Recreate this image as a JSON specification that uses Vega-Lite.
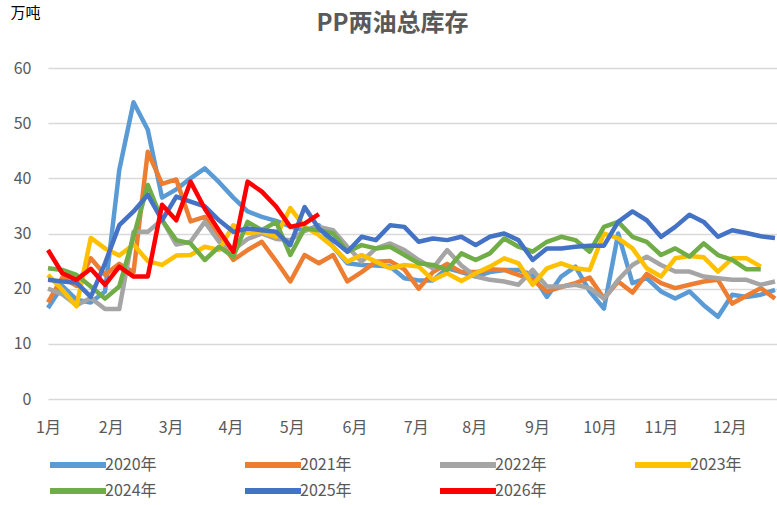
{
  "$schema": "https://vega.github.io/schema/vega-lite/v6.json",
  "width": 729,
  "height": 331,
  "autosize": {"type": "none"},
  "padding": {"left": 48, "top": 68, "right": 0, "bottom": 106},
  "background": "white",
  "title": {"text": "PP两油总库存", "fontSize": 24, "font": "Noto Sans CJK SC", "fontWeight": "bold", "color": "#595959", "anchor": "middle", "dx": -20, "offset": -31},
  "data": {"values": [
    {"w":0,"2020年":16.5,"2021年":17.5,"2022年":20,"2023年":22.5,"2024年":23.7,"2025年":21.6,"2026年":27},
    {"w":1,"2020年":20.5,"2021年":22,"2022年":19,"2023年":19.8,"2024年":23.4,"2025年":21.3,"2026年":22.8},
    {"w":2,"2020年":18,"2021年":20.5,"2022年":17,"2023年":16.8,"2024年":22.5,"2025年":21.1,"2026年":21.6},
    {"w":3,"2020年":17.5,"2021年":25.5,"2022年":18.3,"2023年":29.2,"2024年":20.4,"2025年":18.5,"2026年":23.6},
    {"w":4,"2020年":19.5,"2021年":22.5,"2022年":16.3,"2023年":27.3,"2024年":18.2,"2025年":24.6,"2026年":20.7},
    {"w":5,"2020年":41.5,"2021年":24.5,"2022年":16.3,"2023年":26,"2024年":20.4,"2025年":31.5,"2026年":24},
    {"w":6,"2020年":53.8,"2021年":23,"2022年":30.3,"2023年":28,"2024年":29.4,"2025年":34,"2026年":22.2},
    {"w":7,"2020年":48.8,"2021年":44.8,"2022年":30.3,"2023年":25,"2024年":38.8,"2025年":37,"2026年":22.2},
    {"w":8,"2020年":36.5,"2021年":39,"2022年":32.5,"2023年":24.3,"2024年":32.4,"2025年":32.4,"2026年":35.2},
    {"w":9,"2020年":38,"2021年":39.8,"2022年":28,"2023年":26,"2024年":28.8,"2025年":36.7,"2026年":32.4},
    {"w":10,"2020年":40,"2021年":32.2,"2022年":28.5,"2023年":26.1,"2024年":28.2,"2025年":35.8,"2026年":39.4},
    {"w":11,"2020年":41.8,"2021年":33,"2022年":32.1,"2023年":27.6,"2024年":25.2,"2025年":34.9,"2026年":34.5},
    {"w":12,"2020年":39.3,"2021年":29,"2022年":28.5,"2023年":27,"2024年":27.6,"2025年":32.4,"2026年":30.5},
    {"w":13,"2020年":36.5,"2021年":25.2,"2022年":27,"2023年":31.5,"2024年":25.8,"2025年":30.3,"2026年":26.7},
    {"w":14,"2020年":34,"2021年":27,"2022年":29,"2023年":30.1,"2024年":32.1,"2025年":30.9,"2026年":39.4},
    {"w":15,"2020年":33,"2021年":28.5,"2022年":30,"2023年":30.3,"2024年":30.6,"2025年":30.6,"2026年":37.6},
    {"w":16,"2020年":32.3,"2021年":25,"2022年":29,"2023年":29.4,"2024年":32.1,"2025年":30.3,"2026年":34.9},
    {"w":17,"2020年":31.3,"2021年":21.3,"2022年":28.8,"2023年":34.6,"2024年":26.1,"2025年":27.9,"2026年":31.2},
    {"w":18,"2020年":30.5,"2021年":26.1,"2022年":30.5,"2023年":31.2,"2024年":30.9,"2025年":34.8,"2026年":31.8},
    {"w":19,"2020年":31.5,"2021年":24.6,"2022年":31.2,"2023年":29.7,"2024年":30.6,"2025年":30.9,"2026年":33.5},
    {"w":20,"2020年":27.6,"2021年":26.1,"2022年":30.6,"2023年":27.6,"2024年":30,"2025年":28.8},
    {"w":21,"2020年":24.6,"2021年":21.3,"2022年":27.6,"2023年":24.9,"2024年":26.7,"2025年":26.7},
    {"w":22,"2020年":24.3,"2021年":23,"2022年":24.9,"2023年":26.1,"2024年":27.9,"2025年":29.4},
    {"w":23,"2020年":24.2,"2021年":24.9,"2022年":27.3,"2023年":24.9,"2024年":27.3,"2025年":28.8},
    {"w":24,"2020年":24,"2021年":25,"2022年":28.2,"2023年":23.7,"2024年":27.6,"2025年":31.5},
    {"w":25,"2020年":21.9,"2021年":23.5,"2022年":27,"2023年":24.3,"2024年":26.1,"2025年":31.2},
    {"w":26,"2020年":21.5,"2021年":20,"2022年":25.2,"2023年":24,"2024年":24.6,"2025年":28.5},
    {"w":27,"2020年":21.5,"2021年":23,"2022年":23.7,"2023年":21.6,"2024年":24.3,"2025年":29.1},
    {"w":28,"2020年":23.7,"2021年":24.5,"2022年":27,"2023年":22.8,"2024年":23.4,"2025年":28.8},
    {"w":29,"2020年":23,"2021年":23,"2022年":24.2,"2023年":21.4,"2024年":26.4,"2025年":29.4},
    {"w":30,"2020年":22.2,"2021年":23,"2022年":22.2,"2023年":22.8,"2024年":25.2,"2025年":27.9},
    {"w":31,"2020年":23,"2021年":23.5,"2022年":21.6,"2023年":24,"2024年":26.4,"2025年":29.4},
    {"w":32,"2020年":23.4,"2021年":23.4,"2022年":21.3,"2023年":25.5,"2024年":29.1,"2025年":30},
    {"w":33,"2020年":23.4,"2021年":22.5,"2022年":20.7,"2023年":24.6,"2024年":27.6,"2025年":28.8},
    {"w":34,"2020年":22.5,"2021年":21.6,"2022年":23.4,"2023年":20.7,"2024年":26.7,"2025年":25.2},
    {"w":35,"2020年":18.5,"2021年":19.5,"2022年":20.4,"2023年":23.7,"2024年":28.5,"2025年":27.3},
    {"w":36,"2020年":22.2,"2021年":20.3,"2022年":20.4,"2023年":24.6,"2024年":29.4,"2025年":27.3},
    {"w":37,"2020年":24,"2021年":21,"2022年":20.7,"2023年":23.7,"2024年":28.8,"2025年":27.6},
    {"w":38,"2020年":19.5,"2021年":22,"2022年":20.1,"2023年":23.4,"2024年":26.7,"2025年":27.8},
    {"w":39,"2020年":16.4,"2021年":18.2,"2022年":18.2,"2023年":30,"2024年":31.2,"2025年":27.8},
    {"w":40,"2020年":30,"2021年":21.3,"2022年":21.6,"2023年":29.1,"2024年":32.1,"2025年":32.1},
    {"w":41,"2020年":21,"2021年":19.3,"2022年":24.3,"2023年":27.3,"2024年":29.4,"2025年":34},
    {"w":42,"2020年":21.9,"2021年":22.7,"2022年":25.8,"2023年":23.7,"2024年":28.5,"2025年":32.4},
    {"w":43,"2020年":19.5,"2021年":21,"2022年":24.3,"2023年":22.2,"2024年":26.1,"2025年":29.4},
    {"w":44,"2020年":18.2,"2021年":20.1,"2022年":23.1,"2023年":25.5,"2024年":27.3,"2025年":31.2},
    {"w":45,"2020年":19.5,"2021年":20.7,"2022年":23.1,"2023年":25.9,"2024年":25.8,"2025年":33.4},
    {"w":46,"2020年":17,"2021年":21.3,"2022年":22.2,"2023年":25.7,"2024年":28.2,"2025年":32.1},
    {"w":47,"2020年":14.9,"2021年":21.6,"2022年":21.9,"2023年":23.1,"2024年":26.1,"2025年":29.4},
    {"w":48,"2020年":18.9,"2021年":17.3,"2022年":21.6,"2023年":25.5,"2024年":25.2,"2025年":30.6},
    {"w":49,"2020年":18.5,"2021年":18.7,"2022年":21.6,"2023年":25.5,"2024年":23.5,"2025年":30.1},
    {"w":50,"2020年":18.9,"2021年":20.1,"2022年":20.7,"2023年":24,"2024年":23.5,"2025年":29.5},
    {"w":51,"2020年":19.8,"2021年":18.2,"2022年":21.3,"2025年":29.2}
  ]},
  "transform": [
    {"fold": ["2020年","2021年","2022年","2023年","2024年","2025年","2026年"], "as": ["s","v"]},
    {"filter": "isValid(datum.v)"}
  ],
  "mark": {"type": "line", "strokeWidth": 4.5, "strokeJoin": "round", "strokeCap": "butt"},
  "encoding": {
    "x": {"field": "w", "type": "quantitative",
      "scale": {"domain": [0, 51.14], "nice": false, "zero": false},
      "axis": {"values": [0,4.4,8.6,12.8,17.1,21.5,25.8,29.9,34.3,38.7,43,47.8],
        "labelExpr": "['1月','2月','3月','4月','5月','6月','7月','8月','9月','10月','11月','12月'][indexof([0,4.4,8.6,12.8,17.1,21.5,25.8,29.9,34.3,38.7,43,47.8], datum.value)]",
        "grid": false, "domain": false, "ticks": false, "labelFlush": false, "labelOverlap": false,
        "labelPadding": 20, "labelFontSize": 16, "labelFont": "Liberation Sans Narrow, Noto Sans CJK SC", "labelColor": "#595959", "title": null}},
    "y": {"field": "v", "type": "quantitative",
      "scale": {"domain": [0, 60], "nice": false},
      "axis": {"values": [0,10,20,30,40,50,60], "grid": true, "gridColor": "#D9D9D9", "gridWidth": 1.5,
        "domain": false, "ticks": false, "labelPadding": 17, "labelFontSize": 16,
        "labelFont": "Liberation Sans Narrow, Noto Sans CJK SC", "labelColor": "#595959",
        "title": "万吨", "titleAngle": 0, "titleX": -38, "titleY": -56, "titleAlign": "left", "titleBaseline": "middle",
        "titleFontWeight": "normal", "titleFontSize": 15, "titleColor": "#000000", "titleFont": "Noto Sans CJK SC"}},
    "color": {"field": "s", "type": "nominal",
      "scale": {"domain": ["2020年","2021年","2022年","2023年","2024年","2025年","2026年"],
        "range": ["#5B9BD5","#ED7D31","#A5A5A5","#FFC000","#70AD47","#4472C4","#FF0000"]},
      "legend": {"orient": "none", "legendX": 20, "legendY": 387, "columns": 4, "direction": "horizontal",
        "symbolType": "M-4,0L4,0", "symbolSize": 196, "symbolStrokeWidth": 6, "labelFontSize": 16,
        "labelFont": "Liberation Sans Narrow, Noto Sans CJK SC", "labelColor": "#595959",
        "columnPadding": 76, "rowPadding": 2, "title": null, "labelOffset": 17}}
  },
  "config": {"view": {"stroke": null}}
}
